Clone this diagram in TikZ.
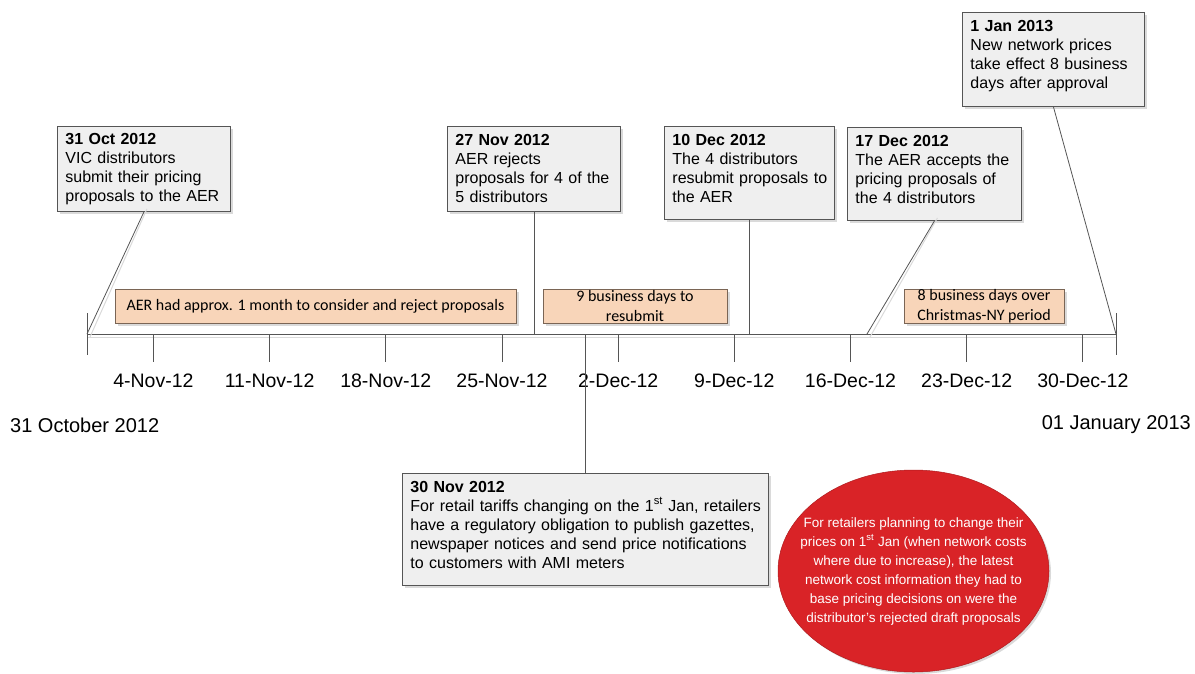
\documentclass[tikz,border=0pt]{standalone}
\usepackage{fontspec}
\setmainfont{Liberation Sans}
\newfontfamily\calib{Carlito}
\usetikzlibrary{shapes.geometric,shadows}
\definecolor{boxfill}{HTML}{EFEFEF}
\definecolor{boxdraw}{HTML}{555555}
\definecolor{peach}{HTML}{F8D5B9}
\definecolor{peachdraw}{HTML}{7A6555}
\definecolor{redell}{HTML}{D92327}
\definecolor{axisc}{HTML}{555555}
\definecolor{shade}{HTML}{DADADA}
\newcommand{\oneline}[1]{\mbox{#1}}
\newcommand{\extradepth}[1]{\rule[-#1]{0pt}{1pt}}
\begin{document}
\begin{tikzpicture}[x=1pt,y=-1pt,
  evbox/.style={draw=boxdraw, fill=boxfill, line width=0.9pt, anchor=north west,
    align=left, inner xsep=8pt, inner ysep=5pt,
    font=\fontsize{16}{19}\selectfont,
    drop shadow={shadow xshift=3pt,shadow yshift=-3pt,fill=shade,opacity=1}},
  spanbox/.style={draw=peachdraw, fill=peach, line width=0.9pt, align=center,
    inner sep=0pt, font=\calib\fontsize{16}{19.5}\selectfont,
    drop shadow={shadow xshift=3pt,shadow yshift=-3pt,fill=shade,opacity=1}},
  axisline/.style={draw=axisc, line width=1pt},
  shadowline/.style={draw=shade, line width=1pt},
  conn/.style={draw=axisc, line width=0.8pt},
  ticklbl/.style={font=\fontsize{19.5}{22}\selectfont, inner sep=0pt},
  endlbl/.style={font=\fontsize{20}{24}\selectfont, inner sep=0pt}
]
\useasboundingbox (0,0) rectangle (1195,673);

% axis
\coordinate (ax0) at (87,334);
\coordinate (ax1) at (1116,334);
\coordinate (dec17) at (867,334);
\draw[shadowline] (88,337) -- (1117,337);
\draw[axisline] (ax0) -- (ax1);
\draw[axisline] (87,313) -- (87,355);
\draw[axisline] (1116,313) -- (1116,355);

% week ticks and labels
\foreach \x/\t [count=\i] in {153.4/4-Nov-12, 269.6/11-Nov-12, 385.8/18-Nov-12,
    502.0/25-Nov-12, 618.2/2-Dec-12, 734.3/9-Dec-12, 850.5/16-Dec-12,
    966.7/23-Dec-12, 1082.9/30-Dec-12} {
  \draw[axisline] (\x,334) -- (\x,362);
  \node[ticklbl] (tl\i) at (\x,381) {\t};
}

\node[endlbl, anchor=west] (startlbl) at (10,425) {31 October 2012};
\node[endlbl, anchor=east] (endlbl) at (1191,425) {01 January 2013};

% span boxes
\node[spanbox, minimum width=401pt, minimum height=34pt] (s1) at (315.5,306)
  {AER had approx. 1 month to consider and reject proposals};
\node[spanbox, minimum width=184pt, minimum height=34pt] (s2) at (635,306)
  {9 business days to\\resubmit};
\node[spanbox, minimum width=160pt, minimum height=34pt] (s3) at (984,306)
  {8 business days over\\Christmas-NY period};

% event boxes
\node[evbox, text width=157pt, minimum height=85pt] (b1) at (57,126)
  {\textbf{31 Oct 2012}\\\oneline{VIC distributors}\\\oneline{submit their pricing}\\\oneline{proposals to the AER}};
\node[evbox, text width=157pt, minimum height=85pt] (b2) at (447,126)
  {\textbf{27 Nov 2012}\\\oneline{AER rejects}\\\oneline{proposals for 4 of the}\\\oneline{5 distributors}};
\node[evbox, text width=154pt, minimum height=93pt] (b3) at (664,126)
  {\textbf{10 Dec 2012}\\\oneline{The 4 distributors}\\\oneline{resubmit proposals to}\\\oneline{the AER}\extradepth{9pt}};
\node[evbox, text width=158pt, minimum height=93pt] (b4) at (847,127)
  {\textbf{17 Dec 2012}\\\oneline{The AER accepts the}\\\oneline{pricing proposals of}\\\oneline{the 4 distributors}\extradepth{9pt}};
\node[evbox, text width=166pt, minimum height=94pt] (b5) at (962,12)
  {\textbf{1 Jan 2013}\\\oneline{New network prices}\\\oneline{take effect 8 business}\\\oneline{days after approval}\extradepth{10pt}};
\node[evbox, text width=350pt, minimum height=112pt] (b6) at (402,473)
  {\textbf{30 Nov 2012}\\\oneline{For retail tariffs changing on the 1\textsuperscript{st} Jan, retailers}\\\oneline{have a regulatory obligation to publish gazettes,}\\\oneline{newspaper notices and send price notifications}\\\oneline{to customers with AMI meters}\extradepth{10pt}};

% connectors
\draw[shadowline] ([xshift=3pt,yshift=3pt]b1.south) -- (90,337);
\draw[conn] (b1.south) -- (ax0);
\draw[conn] (b2.south) -- (b2.south |- ax0);
\draw[conn] (b3.south) -- (b3.south |- ax0);
\draw[shadowline] ([xshift=3pt,yshift=3pt]b4.south) -- (870,337);
\draw[conn] (b4.south) -- (dec17);
\draw[conn] (b5.south) -- (ax1);
\draw[conn] (b6.north |- ax0) -- (b6.north);

% red ellipse
\node[ellipse, fill=redell, draw=redell!80!black, line width=0.5pt,
  minimum width=271pt, minimum height=202pt, inner sep=0pt,
  drop shadow={shadow xshift=2pt,shadow yshift=-2pt,fill=shade,opacity=1}] (ell) at (913.5,571) {};
\node[text=white, align=center, inner sep=0pt, font=\fontsize{13.5}{19}\selectfont] (elltext) at (ell.center)
  {For retailers planning to change their\\prices on 1\textsuperscript{st} Jan (when network costs\\where due to increase), the latest\\network cost information they had to\\base pricing decisions on were the\\distributor’s rejected draft proposals};
\end{tikzpicture}
\end{document}
